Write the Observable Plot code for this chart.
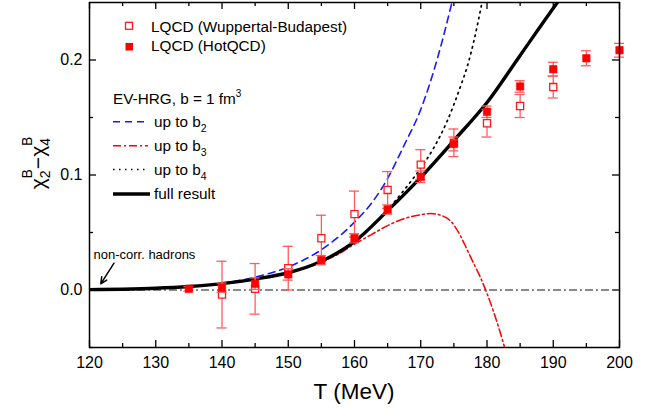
<!DOCTYPE html>
<html><head><meta charset="utf-8">
<script src="https://cdn.jsdelivr.net/npm/d3@7"></script>
<script src="https://cdn.jsdelivr.net/npm/@observablehq/plot@0.6"></script>
<style>body{margin:0;background:#fff} svg{display:block}</style>
</head><body><div id="chart"></div>
<script>
const FONT = '"Liberation Sans", Arial, Helvetica, sans-serif';

// ---- Lattice QCD data ----
const wbT   = [140, 145, 150, 155, 160, 165, 170, 175, 180, 185, 190];
const wbVal = [-0.004, 0.001, 0.019, 0.045, 0.066, 0.087, 0.109, 0.128, 0.145, 0.160, 0.1765];
const wbErr = [0.029, 0.022, 0.019, 0.020, 0.020, 0.016, 0.013, 0.012, 0.012, 0.010, 0.0095];

const hotT   = [135, 140, 145, 150, 155, 160, 165, 170, 175, 180, 185, 190, 195, 200];
const hotVal = [0.001, 0.002, 0.0055, 0.0136, 0.026, 0.045, 0.070, 0.0985, 0.127, 0.155, 0.177, 0.192, 0.2015, 0.2085];
const hotErr = [0.002, 0.004, 0.005, 0.005, 0.004, 0.004, 0.004, 0.005, 0.006, 0.005, 0.005, 0.006, 0.0065, 0.006];

// ---- EV-HRG model curves ----
const fullT   = [120, 125, 130, 135, 140, 145, 150, 155, 160, 165, 170, 175, 180, 185, 190, 191];
const fullVal = [0.0003, 0.0007, 0.0015, 0.003, 0.0055, 0.0095, 0.015, 0.025, 0.042, 0.069, 0.098, 0.130, 0.163, 0.204, 0.245, 0.253];

const b2T   = [120, 125, 130, 135, 140, 145, 150, 155, 160, 162.5, 165, 167.5, 170, 172.5, 175];
const b2Val = [0.0003, 0.0007, 0.0015, 0.003, 0.0058, 0.0112, 0.020, 0.035, 0.059, 0.075, 0.097, 0.126, 0.157, 0.201, 0.257];

const b3T   = [120, 125, 130, 135, 140, 145, 150, 155, 157.5, 160, 162.5, 165, 167.5, 170, 171.5, 173, 174.5, 176, 177, 178, 179, 180, 181, 182, 183];
const b3Val = [0.0003, 0.0007, 0.0015, 0.003, 0.0055, 0.0095, 0.015, 0.0245, 0.031, 0.040, 0.048, 0.056, 0.062, 0.0655, 0.0665, 0.065, 0.060, 0.047, 0.035, 0.023, 0.011, -0.003, -0.019, -0.037, -0.057];

const b4T   = [120, 125, 130, 135, 140, 145, 150, 155, 160, 162.5, 165, 167.5, 170, 172, 174, 176, 177, 178, 179, 180];
const b4Val = [0.0003, 0.0007, 0.0015, 0.003, 0.0055, 0.0095, 0.015, 0.025, 0.043, 0.055, 0.070, 0.087, 0.106, 0.124, 0.147, 0.177, 0.194, 0.216, 0.243, 0.272];

// ---- axes ----
const xMajor = [120, 130, 140, 150, 160, 170, 180, 190, 200];
const xMinor = [125, 135, 145, 155, 165, 175, 185, 195];
const yMajor = [0.0, 0.1, 0.2];
const yMinor = [-0.05, 0.05, 0.15];

// annotation
const annText = "non-corr. hadrons";
const annPos = {T: 120.6, v: 0.0303};
const annArrow = {T1: 123.7, v1: 0.0233, T2: 121.7, v2: 0.0054};

const zip = (T, V, E) => T.map((t, i) => ({T: t, v: V[i], e: E ? E[i] : 0}));
const wb = zip(wbT, wbVal, wbErr);
const hot = zip(hotT, hotVal, hotErr);
const full = zip(fullT, fullVal), b2 = zip(b2T, b2Val), b3 = zip(b3T, b3Val), b4 = zip(b4T, b4Val);

const W = 656, H = 409, mL = 89, mR = 37, mT = 2, mB = 62;
const xDom = [120, 200], yDom = [-0.05, 0.25];
const ux = (W - mL - mR) / (xDom[1] - xDom[0]);
const uy = (H - mT - mB) / (yDom[1] - yDom[0]);
const tx = px => px / ux, ty = px => px / uy;

const errColor = "#ff5c5c";
const capW = 5;

const plot = Plot.plot({
  width: W, height: H,
  marginLeft: mL, marginRight: mR, marginTop: mT, marginBottom: mB,
  x: {domain: xDom}, y: {domain: yDom},
  style: {fontFamily: FONT, background: "#fff", color: "#000"},
  marks: [
    Plot.axisX(xMajor, {tickSize: 0, tickPadding: 9, fontSize: 16, tickFormat: d => String(d), label: null}),
    Plot.axisY(yMajor, {tickSize: 0, tickPadding: 7, fontSize: 16, tickFormat: d3.format(".1f"), label: null}),
    // inward ticks, all four sides
    Plot.ruleX(xMajor, {x: d => d, y1: yDom[0], y2: yDom[0] + ty(7), stroke: "#000", strokeWidth: 1.3}),
    Plot.ruleX(xMinor, {x: d => d, y1: yDom[0], y2: yDom[0] + ty(4), stroke: "#000", strokeWidth: 1.3}),
    Plot.ruleX(xMajor, {x: d => d, y1: yDom[1], y2: yDom[1] - ty(7), stroke: "#000", strokeWidth: 1.3}),
    Plot.ruleX(xMinor, {x: d => d, y1: yDom[1], y2: yDom[1] - ty(4), stroke: "#000", strokeWidth: 1.3}),
    Plot.ruleY(yMajor, {y: d => d, x1: xDom[0], x2: xDom[0] + tx(7), stroke: "#000", strokeWidth: 1.3}),
    Plot.ruleY(yMinor, {y: d => d, x1: xDom[0], x2: xDom[0] + tx(4), stroke: "#000", strokeWidth: 1.3}),
    Plot.ruleY(yMajor, {y: d => d, x1: xDom[1], x2: xDom[1] - tx(7), stroke: "#000", strokeWidth: 1.3}),
    Plot.ruleY(yMinor, {y: d => d, x1: xDom[1], x2: xDom[1] - tx(4), stroke: "#000", strokeWidth: 1.3}),
    // zero reference
    Plot.ruleY([0], {stroke: "#666", strokeWidth: 1.3, strokeDasharray: "8,3,2,3"}),
    // model curves
    Plot.line(b2, {x: "T", y: "v", curve: "monotone-x", stroke: "#1a1aff", strokeWidth: 1.6, strokeDasharray: "7,5", clip: true}),
    Plot.line(b3, {x: "T", y: "v", curve: "monotone-x", stroke: "#ff0000", strokeWidth: 1.5, strokeDasharray: "8,3,2,3", clip: true}),
    Plot.line(b4, {x: "T", y: "v", curve: "monotone-x", stroke: "#000", strokeWidth: 1.7, strokeDasharray: "1.5,4.5", clip: true}),
    Plot.line(full, {x: "T", y: "v", curve: "monotone-x", stroke: "#000", strokeWidth: 3.4, clip: true}),
    // WB errors + points
    Plot.ruleX(wb, {x: "T", y1: d => d.v - d.e, y2: d => d.v + d.e, stroke: errColor, strokeWidth: 1.3}),
    Plot.ruleY(wb, {y: d => d.v + d.e, x1: d => d.T - tx(capW), x2: d => d.T + tx(capW), stroke: errColor, strokeWidth: 1.3}),
    Plot.ruleY(wb, {y: d => d.v - d.e, x1: d => d.T - tx(capW), x2: d => d.T + tx(capW), stroke: errColor, strokeWidth: 1.3}),
    Plot.dot(wb, {x: "T", y: "v", symbol: "square", r: 4.0, fill: "#fff", stroke: "#ff1a1a", strokeWidth: 1.3}),
    // HotQCD errors + points
    Plot.ruleX(hot, {x: "T", y1: d => d.v - d.e, y2: d => d.v + d.e, stroke: errColor, strokeWidth: 1.3}),
    Plot.ruleY(hot, {y: d => d.v + d.e, x1: d => d.T - tx(capW), x2: d => d.T + tx(capW), stroke: errColor, strokeWidth: 1.3}),
    Plot.ruleY(hot, {y: d => d.v - d.e, x1: d => d.T - tx(capW), x2: d => d.T + tx(capW), stroke: errColor, strokeWidth: 1.3}),
    Plot.dot(hot, {x: "T", y: "v", symbol: "square", r: 4.2, fill: "#ff0000", stroke: "#ff0000", strokeWidth: 0.6}),
    // annotation
    Plot.text([annPos], {x: "T", y: "v", text: () => annText, textAnchor: "start", lineAnchor: "middle", fontSize: 13, fill: "#000"}),
    Plot.arrow([annArrow], {x1: "T1", y1: "v1", x2: "T2", y2: "v2", stroke: "#000", strokeWidth: 1.5, headLength: 7, headAngle: 50}),
    Plot.frame({stroke: "#000", strokeWidth: 1.5})
  ]
});

document.getElementById("chart").appendChild(plot);
const svg = d3.select(plot);
svg.style("overflow", "visible");

// x label
svg.append("text").attr("x", (mL + W - mR) / 2).attr("y", 399).attr("text-anchor", "middle")
  .style("font-family", FONT).style("font-size", "22.5px").text("T (MeV)");

// y label
const yl = svg.append("text").attr("transform", "translate(45,163) rotate(-90)")
  .attr("text-anchor", "middle").style("font-family", FONT).style("font-size", "21px");
yl.append("tspan").text("χ");
yl.append("tspan").attr("dy", 5).style("font-size", "14px").text("2");
yl.append("tspan").attr("dx", -8).attr("dy", -18).style("font-size", "14px").text("B");
yl.append("tspan").attr("dy", 13).text("−χ");
yl.append("tspan").attr("dy", 5).style("font-size", "14px").text("4");
yl.append("tspan").attr("dx", -8).attr("dy", -18).style("font-size", "14px").text("B");

// legend (top)
const lg = svg.append("g").attr("text-anchor", "start").style("text-anchor", "start")
  .style("font-family", FONT).style("font-size", "15.3px");
lg.append("rect").attr("x", 125.5).attr("y", 22.3).attr("width", 7).attr("height", 7)
  .attr("fill", "#fff").attr("stroke", "#ff1a1a").attr("stroke-width", 1.3);
lg.append("text").attr("x", 151).attr("y", 31.5).text("LQCD (Wuppertal-Budapest)");
lg.append("rect").attr("x", 125.5).attr("y", 43).attr("width", 7.5).attr("height", 7.5).attr("fill", "#ff0000");
lg.append("text").attr("x", 151).attr("y", 50.5).text("LQCD (HotQCD)");

// legend (model)
const t0 = lg.append("text").attr("x", 113).attr("y", 104);
t0.append("tspan").text("EV-HRG, b = 1 fm");
t0.append("tspan").attr("dy", -7).style("font-size", "10px").text("3");

const items = [
  {y: 121.7, label: "2", stroke: "#1a1aff", w: 1.6, dash: "7,5"},
  {y: 145.7, label: "3", stroke: "#ff0000", w: 1.5, dash: "8,3,2,3"},
  {y: 169.5, label: "4", stroke: "#000", w: 1.7, dash: "1.5,4.5"}
];
items.forEach(it => {
  lg.append("line").attr("x1", 113).attr("x2", 148).attr("y1", it.y).attr("y2", it.y)
    .attr("stroke", it.stroke).attr("stroke-width", it.w).attr("stroke-dasharray", it.dash);
  const t = lg.append("text").attr("x", 154).attr("y", it.y + 5);
  t.append("tspan").text("up to b");
  t.append("tspan").attr("dy", 5).style("font-size", "10.5px").text(it.label);
});
lg.append("line").attr("x1", 113).attr("x2", 150).attr("y1", 194).attr("y2", 194)
  .attr("stroke", "#000").attr("stroke-width", 3.4);
lg.append("text").attr("x", 154).attr("y", 198.5).text("full result");
</script>
</body></html>
